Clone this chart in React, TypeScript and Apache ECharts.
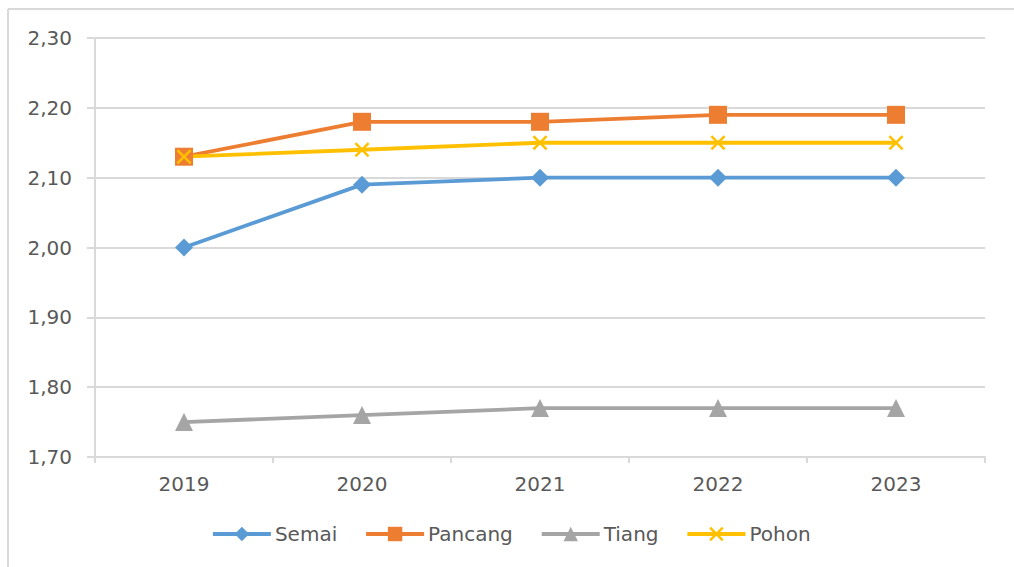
import React, { useEffect, useRef } from "react";
import * as echarts from "echarts";

const years = ["2019", "2020", "2021", "2022", "2023"];
const semai = [2.0, 2.09, 2.1, 2.1, 2.1];
const pancang = [2.13, 2.18, 2.18, 2.19, 2.19];
const tiang = [1.75, 1.76, 1.77, 1.77, 1.77];
const pohon = [2.13, 2.14, 2.15, 2.15, 2.15];

const crossPath =
  "path://M0,1.2L1.2,0L5,3.8L8.8,0L10,1.2L6.2,5L10,8.8L8.8,10L5,6.2L1.2,10L0,8.8L3.8,5Z";

export default function App() {
  const ref = useRef<HTMLDivElement>(null);

  useEffect(() => {
    document.body.style.margin = "0";
    const chart = echarts.init(ref.current!, null, { renderer: "svg" });
    const font = "'DejaVu Sans', 'Open Sans', sans-serif";
    const mk = (
      name: string,
      data: number[],
      color: string,
      symbol: string,
      symbolSize: number
    ) => ({
      name,
      type: "line",
      data,
      symbol,
      symbolSize,
      showAllSymbol: true,
      lineStyle: { color, width: 3.8 },
      itemStyle: { color, borderWidth: 0 },
      z: 3,
    });
    chart.setOption({
      animation: false,
      backgroundColor: "#ffffff",
      textStyle: { fontFamily: font },
      graphic: [
        {
          type: "line",
          shape: { x1: 8, y1: 9, x2: 1014, y2: 9 },
          style: { stroke: "#d9d9d9", lineWidth: 2 },
        },
        {
          type: "line",
          shape: { x1: 8, y1: 9, x2: 8, y2: 567 },
          style: { stroke: "#d9d9d9", lineWidth: 2 },
        },
      ],
      grid: { left: 95, right: 29, top: 38, bottom: 110, containLabel: false },
      legend: {
        top: 519,
        left: 206,
        itemWidth: 58,
        itemHeight: 18,
        itemGap: 27,
        lineStyle: { width: 3.8 },
        textStyle: { color: "#595959", fontSize: 20, fontFamily: font, padding: [0, 0, 0, -1] },
        data: ["Semai", "Pancang", "Tiang", "Pohon"],
      },
      xAxis: {
        type: "category",
        data: years,
        boundaryGap: true,
        axisLine: { lineStyle: { color: "#d9d9d9", width: 2 } },
        axisTick: { show: true, length: 6, lineStyle: { color: "#d9d9d9", width: 2 } },
        axisLabel: { color: "#595959", fontSize: 20, margin: 17, fontFamily: font },
      },
      yAxis: {
        type: "value",
        min: 1.7,
        max: 2.3,
        interval: 0.1,
        axisLine: { show: true, lineStyle: { color: "#d9d9d9", width: 2 } },
        axisTick: { show: true, length: 8, lineStyle: { color: "#d9d9d9", width: 2 } },
        splitLine: { lineStyle: { color: "#d9d9d9", width: 2 } },
        axisLabel: {
          color: "#595959",
          fontSize: 20,
          margin: 23,
          fontFamily: font,
          formatter: (v: number) => v.toFixed(2).replace(".", ","),
        },
      },
      series: [
        mk("Semai", semai, "#5B9BD5", "diamond", 18),
        mk("Pancang", pancang, "#ED7D31", "rect", 18),
        mk("Tiang", tiang, "#A5A5A5", "triangle", 18),
        mk("Pohon", pohon, "#FFC000", crossPath, 15),
      ],
    });
    return () => chart.dispose();
  }, []);

  return <div ref={ref} style={{ width: 1014, height: 567 }} />;
}
